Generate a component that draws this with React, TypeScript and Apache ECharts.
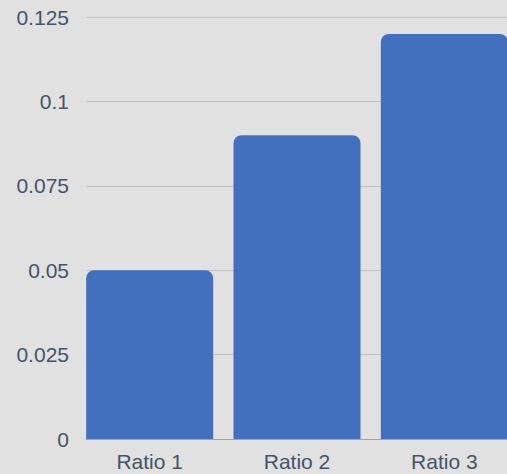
import React, { useEffect, useRef } from "react";
import * as echarts from "echarts";

const categories = ["Ratio 1", "Ratio 2", "Ratio 3"];
const values = [0.05, 0.09, 0.12];
const yTicks = { min: 0, max: 0.125, interval: 0.025 };

export default function App() {
  const ref = useRef<HTMLDivElement>(null);
  useEffect(() => {
    document.body.style.margin = "0";
    document.body.style.background = "#e1e1e1";
    const chart = echarts.init(ref.current!, null, { renderer: "svg" });
    const font = "'Liberation Sans', Arial, sans-serif";
    const labelColor = "#44546a";
    chart.setOption({
      animation: false,
      backgroundColor: "#e1e1e1",
      textStyle: { fontFamily: font },
      grid: [
        { left: 86, top: 17, width: 421, height: 422, containLabel: false },
        { left: 76, top: 17, width: 442, height: 422, containLabel: false },
      ],
      xAxis: [
        {
          type: "category",
          gridIndex: 0,
          data: categories,
          axisLine: { show: true, lineStyle: { color: "#9aa6b6", width: 1 } },
          axisTick: { show: false },
          axisLabel: { show: false },
        },
        {
          type: "category",
          gridIndex: 1,
          data: categories,
          axisLine: { show: false },
          axisTick: { show: false },
          axisLabel: {
            color: labelColor,
            fontSize: 21,
            fontFamily: font,
            margin: 12,
          },
        },
      ],
      yAxis: [
        {
          type: "value",
          gridIndex: 0,
          min: yTicks.min,
          max: yTicks.max,
          interval: yTicks.interval,
          axisLine: { show: false },
          axisTick: { show: false },
          axisLabel: {
            color: labelColor,
            fontSize: 21,
            fontFamily: font,
            margin: 17,
            formatter: (v: number) => String(Math.round(v * 1000) / 1000),
          },
          splitLine: { lineStyle: { color: "#c2c2c2", width: 1 } },
        },
        {
          type: "value",
          gridIndex: 1,
          min: yTicks.min,
          max: yTicks.max,
          interval: yTicks.interval,
          show: false,
          splitLine: { show: false },
        },
      ],
      series: [
        {
          type: "bar",
          xAxisIndex: 1,
          yAxisIndex: 1,
          data: values,
          barWidth: 127,
          itemStyle: { color: "#4370be", borderRadius: [8, 8, 0, 0] },
        },
      ],
    });
    return () => chart.dispose();
  }, []);
  return (
    <div style={{ width: 507, height: 474, overflow: "hidden", background: "#e1e1e1" }}>
      <div ref={ref} style={{ width: 540, height: 474 }} />
    </div>
  );
}
